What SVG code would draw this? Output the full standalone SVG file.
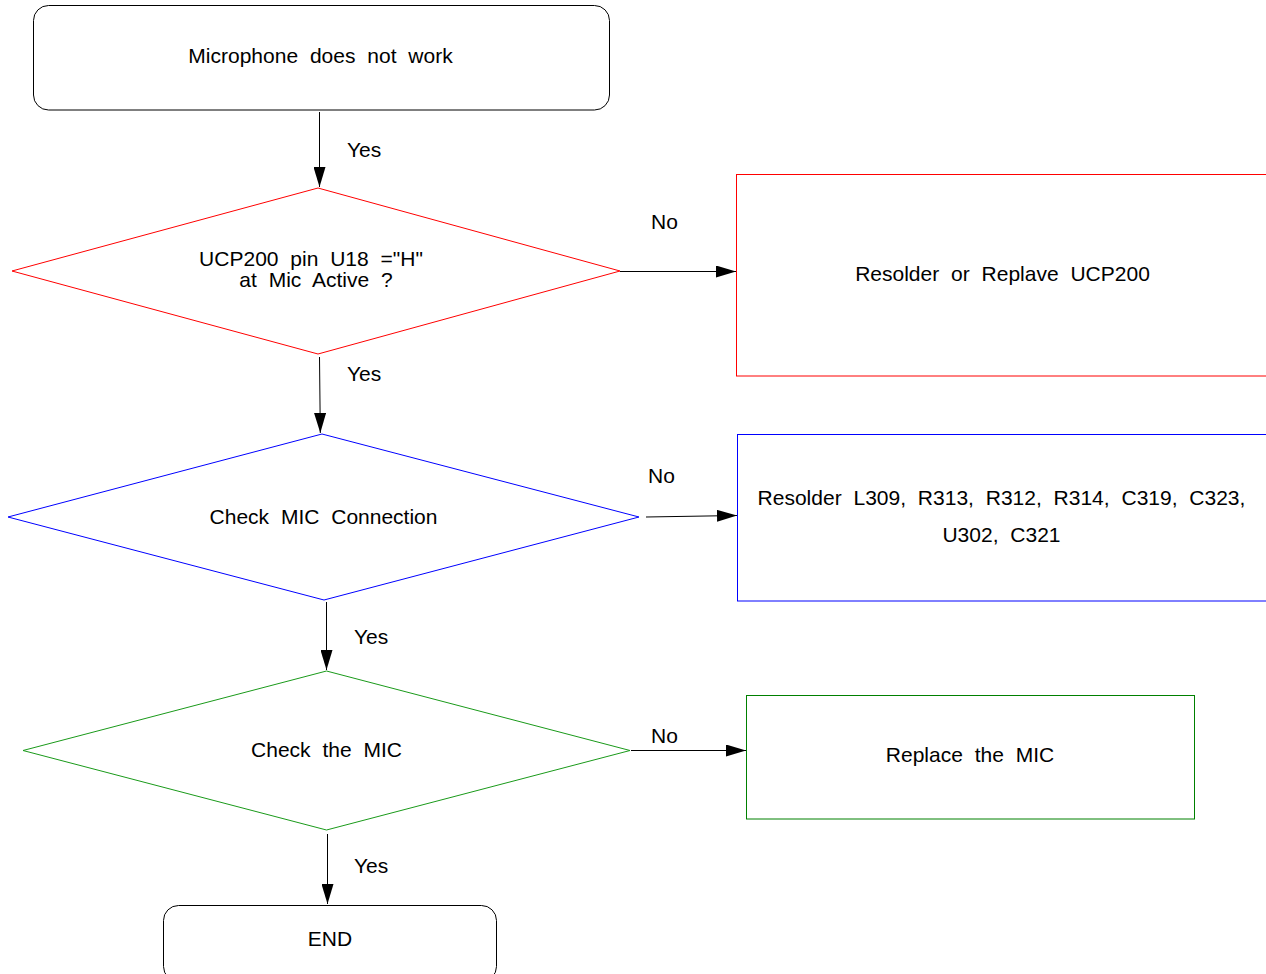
<svg xmlns="http://www.w3.org/2000/svg" width="1266" height="974" viewBox="0 0 1266 974">
<style>
text{font-family:"Liberation Sans",Arial,sans-serif;font-size:21px;fill:#000;word-spacing:6px}
.c{text-anchor:middle}
.term{fill:#fff;stroke:#000;stroke-width:1}
.conn{stroke:#000;stroke-width:1;fill:none;marker-end:url(#arr)}
</style>
<defs>
<marker id="arr" viewBox="0 0 20 12" refX="20" refY="6" markerWidth="20" markerHeight="12" markerUnits="userSpaceOnUse" orient="auto">
<path d="M0,0 L20,6 L0,12 Z" fill="#000"/>
</marker>
</defs>
<rect width="1266" height="974" fill="#fff"/>
<g id="connectors">
<path class="conn" d="M319.5,112 L319.5,187"/>
<path class="conn" d="M319.5,357 L320.3,433"/>
<path class="conn" d="M620,271.5 L736,271.5"/>
<path class="conn" d="M646,517 L737,515.5"/>
<path class="conn" d="M326.5,602 L326.5,670"/>
<path class="conn" d="M631,750.5 L746,750.5"/>
<path class="conn" d="M327.5,834 L327.5,904"/>
<text x="347" y="157">Yes</text>
<text x="347" y="381">Yes</text>
<text x="354" y="644">Yes</text>
<text x="354" y="873">Yes</text>
<text x="651" y="229">No</text>
<text x="648" y="483">No</text>
<text x="651" y="743">No</text>
</g>
<g id="start">
<rect class="term" x="33.5" y="5.5" width="576" height="104.5" rx="15"/>
<text class="c" x="320.5" y="63">Microphone does not work</text>
</g>
<g id="d1">
<polygon points="318,188 620,271 318,354 12,271" fill="none" stroke="#ff0000" stroke-width="1"/>
<text class="c" x="311" y="266">UCP200 pin U18 ="H"</text>
<text class="c" x="316" y="287">at Mic Active ?</text>
</g>
<g id="b1">
<rect x="736.5" y="174.5" width="532" height="201.5" fill="none" stroke="#ff0000" stroke-width="1"/>
<text class="c" x="1002.5" y="281">Resolder or Replave UCP200</text>
</g>
<g id="d2">
<polygon points="322,434 639,517 324,600 8,517" fill="none" stroke="#0000ff" stroke-width="1"/>
<text class="c" x="323.5" y="524">Check MIC Connection</text>
</g>
<g id="b2">
<rect x="737.5" y="434.5" width="531" height="166.5" fill="none" stroke="#0000ff" stroke-width="1"/>
<text class="c" x="1001.5" y="505">Resolder L309, R313, R312, R314, C319, C323,</text>
<text class="c" x="1001.5" y="542">U302, C321</text>
</g>
<g id="d3">
<polygon points="326.5,671 630,750.5 326.5,830 23,750.5" fill="none" stroke="#1a9a1a" stroke-width="1"/>
<text class="c" x="326.5" y="757">Check the MIC</text>
</g>
<g id="b3">
<rect x="746.5" y="695.5" width="448" height="123.5" fill="none" stroke="#008000" stroke-width="1"/>
<text class="c" x="970" y="762">Replace the MIC</text>
</g>
<g id="end">
<rect class="term" x="163.5" y="905.5" width="333" height="76" rx="15"/>
<text class="c" x="330" y="946">END</text>
</g>
</svg>
